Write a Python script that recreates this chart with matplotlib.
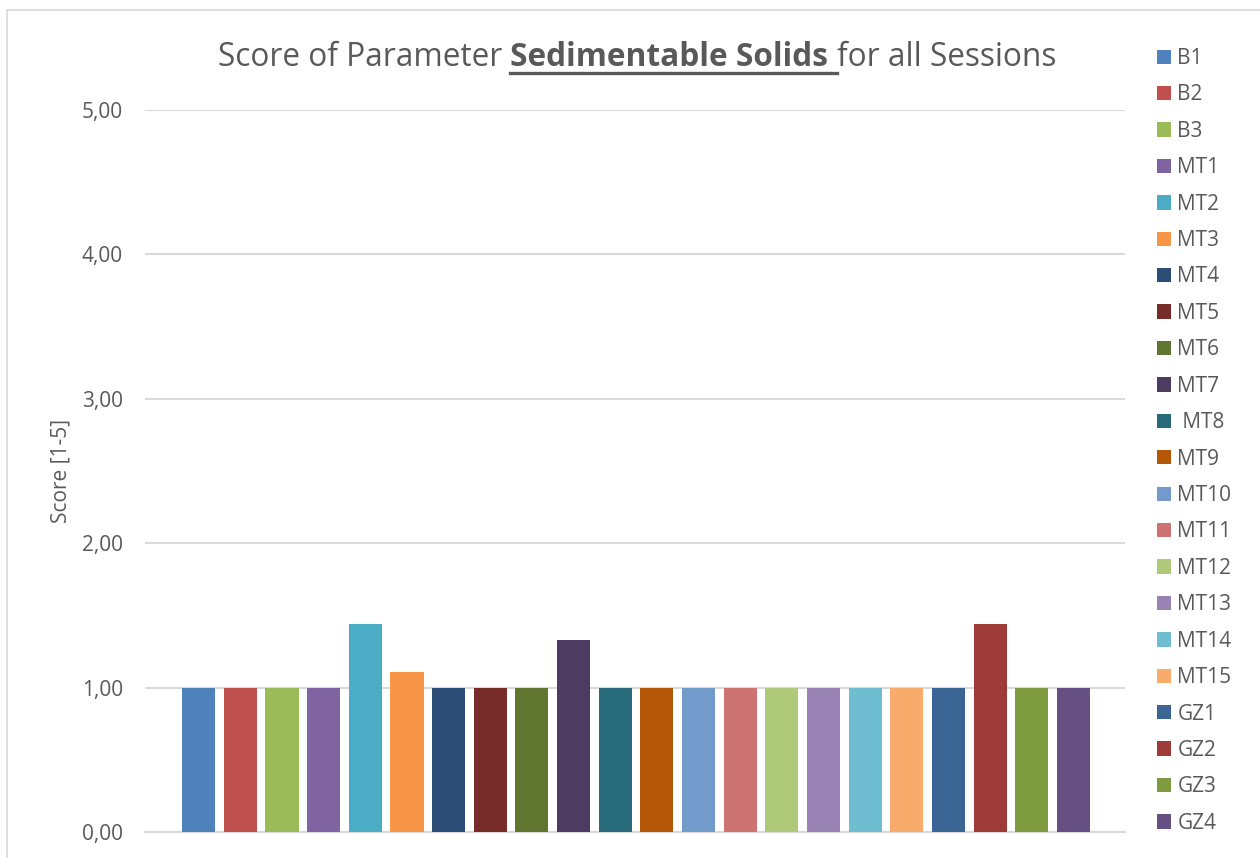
import matplotlib.pyplot as plt
from matplotlib.lines import Line2D

# Sessions and their scores
sessions = ["B1", "B2", "B3", "MT1", "MT2", "MT3", "MT4", "MT5", "MT6", "MT7", " MT8",
            "MT9", "MT10", "MT11", "MT12", "MT13", "MT14", "MT15", "GZ1", "GZ2", "GZ3", "GZ4"]
scores = [1.00, 1.00, 1.00, 1.00, 1.44, 1.11, 1.00, 1.00, 1.00, 1.33, 1.00,
          1.00, 1.00, 1.00, 1.00, 1.00, 1.00, 1.00, 1.00, 1.44, 1.00, 1.00]
y_ticks = [0, 1, 2, 3, 4, 5]
y_tick_labels = ["0,00", "1,00", "2,00", "3,00", "4,00", "5,00"]

colores = ["#4F81BD", "#C0504D", "#9BBB59", "#8064A2", "#4BACC6", "#F79646",
           "#2C4D75", "#772C2A", "#5F7530", "#4D3B62", "#276A7C", "#B65708",
           "#729ACA", "#CD7371", "#AFC97A", "#9983B5", "#6FBDD1", "#F9AB6B",
           "#3A6595", "#9E3A38", "#7E9B40", "#664F82"]

gris_texto = "#595959"
gris_linea = "#D9D9D9"
fuente = "Open Sans"

fig = plt.figure(figsize=(12.6, 8.58), dpi=100)
ax = fig.add_axes([145 / 1260, 1 - 832 / 858, 980 / 1260, 722 / 858])

# One bar per session
for i, (s, v, c) in enumerate(zip(sessions, scores, colores)):
    ax.bar(i, v, width=0.795, color=c, label=s, zorder=3)

ax.set_xlim(-1.29, 22.24)
ax.set_ylim(0, 5)
ax.set_xticks([])
ax.set_yticks(y_ticks)
ax.set_yticklabels(y_tick_labels, fontfamily=fuente, fontsize=15, color=gris_texto)
ax.tick_params(axis="y", length=0, pad=16)
ax.grid(axis="y", color=gris_linea, linewidth=1.5, zorder=0)
for lado in ["top", "right", "left"]:
    ax.spines[lado].set_visible(False)
ax.spines["bottom"].set_color(gris_linea)
ax.spines["bottom"].set_linewidth(1.5)

ax.set_ylabel("Score [1-5]", fontfamily=fuente, fontsize=15, color=gris_texto, labelpad=7)

# Legend on the right
leg = ax.legend(loc="upper left", bbox_to_anchor=(1157 / 1260, 1 - 48 / 858),
                bbox_transform=fig.transFigure, frameon=False,
                handlelength=0.68, handleheight=0.68, handletextpad=0.3,
                labelspacing=0.74, borderpad=0, borderaxespad=0,
                prop={"family": fuente, "size": 15})
for t in leg.get_texts():
    t.set_color(gris_texto)

# Title in three pieces, middle one bold and underlined
fig.canvas.draw()
renderer = fig.canvas.get_renderer()
partes = [("Score of Parameter ", "normal"), ("Sedimentable Solids ", "bold"), ("for all Sessions", "normal")]
textos = []
for txt, peso in partes:
    t = fig.text(0, 1 - 58 / 858, txt, fontfamily=fuente, fontsize=22.8, fontweight=peso,
                 color=gris_texto, va="center", ha="left")
    textos.append(t)
anchos = [t.get_window_extent(renderer).width for t in textos]
x = 637 - sum(anchos) / 2
for t, w in zip(textos, anchos):
    t.set_x(x / 1260)
    x += w
bb = textos[1].get_window_extent(renderer)
y_sub = (bb.y0 + 2) / 858
fig.add_artist(Line2D([bb.x0 / 1260, bb.x1 / 1260], [y_sub, y_sub],
                      transform=fig.transFigure, color=gris_texto, linewidth=2.4))

# Chart area border
fig.add_artist(Line2D([7 / 1260, 7 / 1260], [0, 1 - 10 / 858], transform=fig.transFigure,
                      color=gris_linea, linewidth=1.2))
fig.add_artist(Line2D([7 / 1260, 1], [1 - 10 / 858, 1 - 10 / 858], transform=fig.transFigure,
                      color=gris_linea, linewidth=1.2))

fig.savefig("out.png", dpi=100)
